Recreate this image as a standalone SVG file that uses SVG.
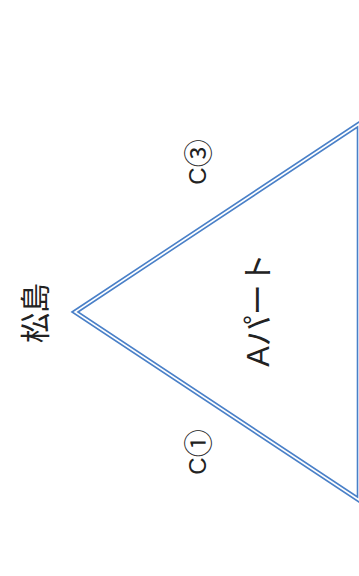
<svg xmlns="http://www.w3.org/2000/svg" width="359" height="576" viewBox="0 0 359 576">
<style>
.edge{fill:none;stroke:#4a80c8;stroke-width:1.6;stroke-linejoin:miter}
.t{font-family:"Liberation Sans","Noto Sans CJK JP",sans-serif;fill:#222;text-anchor:middle;dominant-baseline:central}
.circ{font-family:"Noto Sans CJK JP",sans-serif;font-size:28px}
</style>
<rect width="359" height="576" fill="#fff"/>
<g id="connectors">
<polygon class="edge" points="72,312 362,120 362,504"/>
<polygon class="edge" points="78,312 357.5,127 357.5,497"/>
</g>
<g id="matsushima"><text class="t" font-size="30" transform="translate(35,313) rotate(-90)">松島</text></g>
<g id="a-part"><text class="t" font-size="31" transform="translate(258,310) rotate(-90)">Aパート</text></g>
<g id="c3"><text class="t" font-size="24" transform="translate(197,162) rotate(-90)">C<tspan class="circ">③</tspan></text></g>
<g id="c1"><text class="t" font-size="24" transform="translate(197,452) rotate(-90)">C<tspan class="circ">①</tspan></text></g>
</svg>
